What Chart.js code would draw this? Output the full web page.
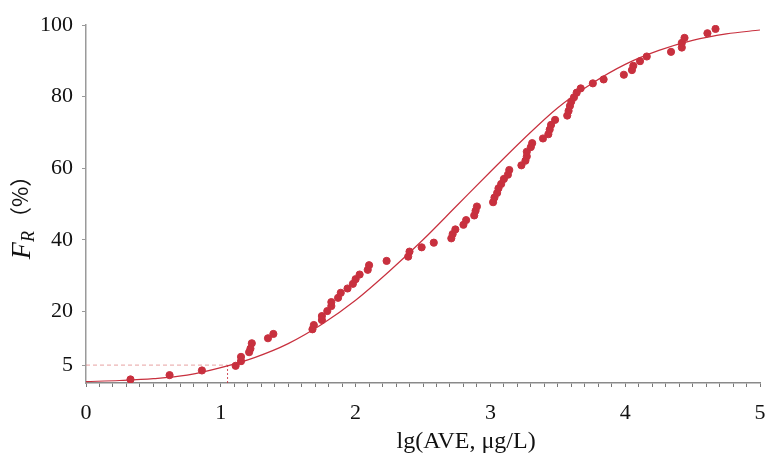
<!DOCTYPE html>
<html>
<head>
<meta charset="utf-8">
<script src="https://cdn.jsdelivr.net/npm/chart.js@4"></script>
<style>
  html, body { margin: 0; padding: 0; background: #fff; }
  #wrap { width: 766px; height: 459px; }
</style>
</head>
<body>
<div id="wrap"><canvas id="frChart" width="766" height="459"></canvas></div>
<script>
/* eslint-disable no-undef */

// observed points: lg(AVE) and cumulative frequency F_R (%)
const lgAve = [
  0.33, 0.62, 0.86, 1.11, 1.15, 1.15, 1.21, 1.22, 1.23, 1.35,
  1.39, 1.68, 1.69, 1.75, 1.75, 1.79, 1.82, 1.82, 1.87, 1.89,
  1.94, 1.98, 2.00, 2.03, 2.09, 2.10, 2.23, 2.39, 2.40, 2.49,
  2.58, 2.71, 2.72, 2.74, 2.80, 2.82, 2.88, 2.89, 2.90, 3.02,
  3.03, 3.05, 3.06, 3.08, 3.10, 3.13, 3.14, 3.23, 3.26, 3.27,
  3.27, 3.30, 3.31, 3.39, 3.43, 3.44, 3.45, 3.48, 3.57, 3.58,
  3.59, 3.60, 3.62, 3.64, 3.67, 3.76, 3.84, 3.99, 4.05, 4.06,
  4.11, 4.16, 4.34, 4.42, 4.42, 4.44, 4.61, 4.67
];
const frPct = [
  1.0, 2.2, 3.5, 4.8, 6.1, 7.3, 8.6, 9.6, 11.1, 12.5,
  13.7, 15.0, 16.2, 17.6, 18.7, 20.1, 21.5, 22.6, 23.8, 25.2,
  26.4, 27.7, 29.0, 30.3, 31.6, 32.9, 34.1, 35.3, 36.7, 37.9,
  39.2, 40.4, 41.6, 42.9, 44.2, 45.5, 46.8, 48.1, 49.3, 50.5,
  51.8, 53.1, 54.4, 55.6, 57.0, 58.2, 59.5, 60.8, 62.1, 63.3,
  64.6, 65.9, 67.0, 68.3, 69.5, 70.8, 72.1, 73.5, 74.7, 76.0,
  77.4, 78.6, 79.8, 81.1, 82.3, 83.7, 84.8, 86.1, 87.4, 88.6,
  89.9, 91.2, 92.5, 93.7, 95.0, 96.4, 97.7, 98.9
];

// fitted curve
const curveX = [0, 0.25, 0.5, 0.75, 1, 1.25, 1.5, 1.75, 2, 2.25, 2.5,
  2.75, 3, 3.25, 3.5, 3.75, 4, 4.25, 4.5, 4.75, 5];
const curveY = [0.4, 0.7, 1.2, 2.2, 4.3, 7.1, 11.0, 16.4, 23.1, 31.2, 40.0,
  49.5, 59.0, 68.3, 76.9, 83.6, 89.0, 92.9, 95.7, 97.5, 98.6];

// 5% cut-off (HC5)
const cutX = 1.05;
const cutY = 5;

const xTickLabels = [0, 1, 2, 3, 4, 5];
const yTickLabels = [5, 20, 40, 60, 80, 100];

const red = 'rgb(200, 48, 62)';
const serif = '"Liberation Serif", "Times New Roman", serif';
const cjk = '"Noto Sans CJK SC", sans-serif';

function ready( fn ) {
  if ( document.readyState !== "loading" ) {
    fn();
  } else {
    document.addEventListener( "DOMContentLoaded", fn );
  }
}

ready( function () {
  frChart();
} );

function frChart() {
  const ctx = document.getElementById('frChart').getContext('2d');

  const points = lgAve.map(function (x, i) { return { x: x, y: frPct[i] }; });
  const curve = curveX.map(function (x, i) { return { x: x, y: curveY[i] }; });

  // axis titles drawn by hand (italic F with subscript R)
  const axisTitles = {
    id: 'axisTitles',
    afterDraw: function (chart) {
      const c = chart.ctx;
      const area = chart.chartArea;
      c.save();
      c.fillStyle = '#111';
      c.font = '24px ' + serif;
      c.textAlign = 'center';
      c.textBaseline = 'alphabetic';
      c.fillText('lg(AVE, \u03bcg/L)', area.left + (area.right - area.left) * 0.564, area.bottom + 65);

      const cy = (area.top + area.bottom) / 2 + 8;
      c.translate(22, cy);
      c.rotate(-Math.PI / 2);
      c.textAlign = 'left';
      const fFont = 'italic 28px ' + serif;
      const rFont = 'italic 18px ' + serif;
      const pFont = '22px ' + cjk;
      c.font = fFont; const wF = c.measureText('F').width;
      c.font = rFont; const wR = c.measureText('R').width;
      c.font = pFont; const wP = c.measureText('\uff08%\uff09').width;
      let u = -(wF + wR + 2 + wP) / 2;
      c.font = fFont; c.fillText('F', u, 8); u += wF;
      c.font = rFont; c.fillText('R', u, 12); u += wR + 2;
      c.font = pFont; c.fillText('\uff08%\uff09', u, 6);
      c.restore();
    }
  };

  const data = {
    datasets: [
      {
        type: 'scatter',
        data: points,
        backgroundColor: red,
        borderColor: red,
        pointRadius: 3.6,
        order: 0
      },
      {
        type: 'line',
        data: curve,
        borderColor: red,
        borderWidth: 1.2,
        pointRadius: 0,
        cubicInterpolationMode: 'monotone',
        order: 1
      },
      {
        type: 'line',
        data: [{ x: 0, y: cutY }, { x: cutX, y: cutY }],
        borderColor: 'rgba(220, 120, 120, 0.7)',
        borderWidth: 1,
        borderDash: [4, 3],
        pointRadius: 0,
        order: 2
      },
      {
        type: 'line',
        data: [{ x: cutX, y: 0 }, { x: cutX, y: cutY }],
        borderColor: 'rgba(200, 48, 62, 0.85)',
        borderWidth: 1,
        borderDash: [2, 2],
        pointRadius: 0,
        order: 2
      }
    ]
  };

  const config = {
    data: data,
    options: {
      responsive: false,
      animation: false,
      layout: {
        padding: { top: 25, right: 6, left: 0, bottom: 0 }
      },
      plugins: {
        legend: { display: false },
        tooltip: { enabled: false }
      },
      scales: {
        x: {
          type: 'linear',
          min: 0,
          max: 5,
          afterBuildTicks: function (scale) {
            const ticks = [];
            for (let i = 0; i <= 50; i++) {
              ticks.push({ value: i / 10 });
            }
            scale.ticks = ticks;
          },
          afterFit: function (scale) {
            scale.height = 76;
            scale.paddingLeft = 0;
            scale.paddingRight = 0;
          },
          ticks: {
            autoSkip: false,
            maxRotation: 0,
            padding: 13,
            color: '#111',
            font: { family: serif, size: 22 },
            callback: function (v) {
              const k = Math.round(v);
              return (Math.abs(v - k) < 1e-6 && xTickLabels.indexOf(k) >= 0) ? String(k) : '';
            }
          },
          grid: {
            drawOnChartArea: false,
            tickLength: 4,
            color: '#777'
          },
          border: { color: '#8a8a8a', width: 1.5 }
        },
        y: {
          type: 'linear',
          min: 0,
          max: 100,
          afterBuildTicks: function (scale) {
            scale.ticks = yTickLabels.map(function (v) { return { value: v }; });
          },
          afterFit: function (scale) { scale.width = 86; },
          ticks: {
            padding: 9,
            color: '#111',
            font: { family: serif, size: 22 }
          },
          grid: {
            drawOnChartArea: false,
            tickLength: 4,
            color: '#999'
          },
          border: { color: '#9a9a9a', width: 1.5 }
        }
      }
    },
    plugins: [axisTitles]
  };
  const myChart = new Chart(ctx, config);
}
</script>
</body>
</html>
